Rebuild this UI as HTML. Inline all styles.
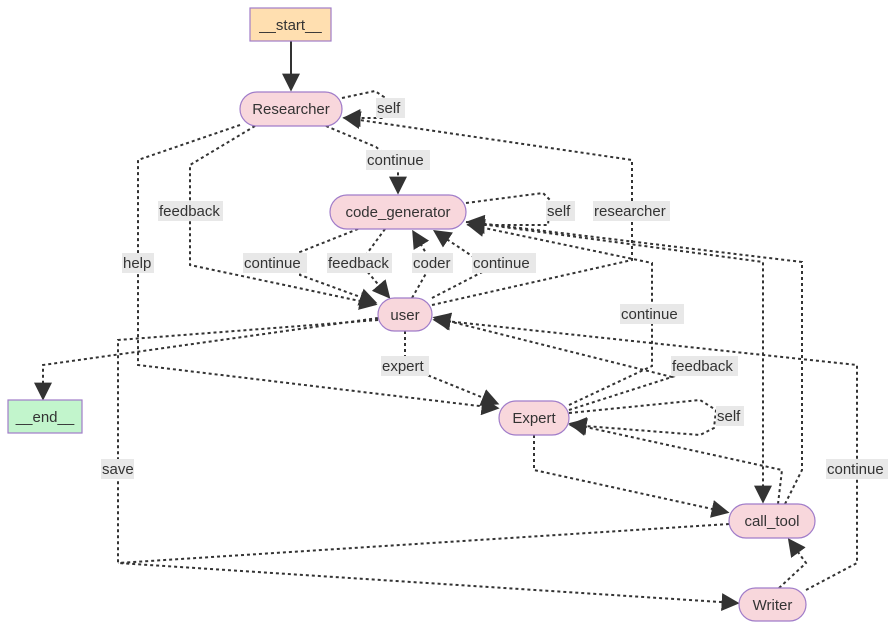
<!DOCTYPE html>
<html><head><meta charset="utf-8"><style>
html,body{margin:0;padding:0;background:#fff;width:896px;height:630px;overflow:hidden}
svg{display:block}
text{font-family:"Liberation Sans","DejaVu Sans",sans-serif;font-size:15px;fill:#333}
.e{fill:none;stroke:#333;stroke-width:2;stroke-dasharray:3 3}
.n{fill:#f8d7dc;stroke:#a07cc9;stroke-width:1.2}
.l{fill:#e8e8e8}
</style></head><body>
<svg width="896" height="630" viewBox="0 0 896 630">
<defs><marker id="a" viewBox="0 0 10 10" refX="8" refY="5" markerWidth="9" markerHeight="9" orient="auto"><path d="M0,0L10,5L0,10z" fill="#333"/></marker></defs>
<path d="M291,41L291,88" fill="none" stroke="#333" stroke-width="2" marker-end="url(#a)"/>
<path class="e" d="M729,524L118,563"/>
<g class="e" marker-end="url(#a)">
<path d="M342,98L375,91L384,97L383,118L346,118"/>
<path d="M326,126L376,147L398,165L398,191"/>
<path d="M255,126L190,165L190,265L374,304"/>
<path d="M240,125L138,160L138,365L496,408"/>
<path d="M432,305L632,260L632,160L346,118"/>
<path d="M466,203L543,193L550,200L548,225L470,225"/>
<path d="M358,229L300,252L300,275L374,302"/>
<path d="M385,229L360,263L388,296"/>
<path d="M412,298L432,263L414,233"/>
<path d="M432,298L490,268L436,232"/>
<path d="M569,405L652,366L652,263L470,225"/>
<path d="M569,410L672,377L436,318"/>
<path d="M569,413L700,400L716,410L714,428L700,435L572,425"/>
<path d="M778,504L782,470L572,424"/>
<path d="M534,435L534,470L726,512"/>
<path d="M466,222L763,262L763,500"/>
<path d="M785,504L802,470L802,262L470,222"/>
<path d="M378,318L43,365L43,397"/>
<path d="M378,320L118,340L118,563L736,603"/>
<path d="M779,588L806,563L790,541"/>
<path d="M806,590L857,563L857,365L436,320"/>
<path d="M405,331L405,366L496,403"/>
</g>
<g>
<rect class="l" x="376" y="98" width="29" height="20"/><text x="377" y="113">self</text>
<rect class="l" x="366" y="150" width="64" height="20"/><text x="367" y="165">continue</text>
<rect class="l" x="158" y="201" width="65" height="20"/><text x="159" y="216">feedback</text>
<rect class="l" x="546" y="201" width="29" height="20"/><text x="547" y="216">self</text>
<rect class="l" x="593" y="201" width="77" height="20"/><text x="594" y="216">researcher</text>
<rect class="l" x="122" y="253" width="32" height="20"/><text x="123" y="268">help</text>
<rect class="l" x="243" y="253" width="64" height="20"/><text x="244" y="268">continue</text>
<rect class="l" x="327" y="253" width="65" height="20"/><text x="328" y="268">feedback</text>
<rect class="l" x="412" y="253" width="41" height="20"/><text x="413" y="268">coder</text>
<rect class="l" x="472" y="253" width="64" height="20"/><text x="473" y="268">continue</text>
<rect class="l" x="620" y="304" width="64" height="20"/><text x="621" y="319">continue</text>
<rect class="l" x="381" y="356" width="48" height="20"/><text x="382" y="371">expert</text>
<rect class="l" x="671" y="356" width="67" height="20"/><text x="672" y="371">feedback</text>
<rect class="l" x="716" y="406" width="28" height="20"/><text x="717" y="421">self</text>
<rect class="l" x="101" y="459" width="33" height="20"/><text x="102" y="474">save</text>
<rect class="l" x="826" y="459" width="62" height="20"/><text x="827" y="474">continue</text>
</g>
<rect x="250" y="8" width="81" height="33" fill="#ffdfb0" stroke="#a07cc9" stroke-width="1.2"/><text x="290.5" y="30" text-anchor="middle">__start__</text>
<rect x="8" y="400" width="74" height="33" fill="#c2f5cc" stroke="#a07cc9" stroke-width="1.2"/><text x="45" y="422" text-anchor="middle">__end__</text>
<rect class="n" x="240" y="92" width="102" height="34" rx="17"/><text x="291" y="114" text-anchor="middle">Researcher</text>
<rect class="n" x="330" y="195" width="136" height="34" rx="17"/><text x="398" y="217" text-anchor="middle">code_generator</text>
<rect class="n" x="378" y="298" width="54" height="33" rx="16.5"/><text x="405" y="320" text-anchor="middle">user</text>
<rect class="n" x="499" y="401" width="70" height="34" rx="17"/><text x="534" y="423" text-anchor="middle">Expert</text>
<rect class="n" x="729" y="504" width="86" height="34" rx="17"/><text x="772" y="526" text-anchor="middle">call_tool</text>
<rect class="n" x="739" y="588" width="67" height="33" rx="16.5"/><text x="772.5" y="610" text-anchor="middle">Writer</text>
</svg>
</body></html>
